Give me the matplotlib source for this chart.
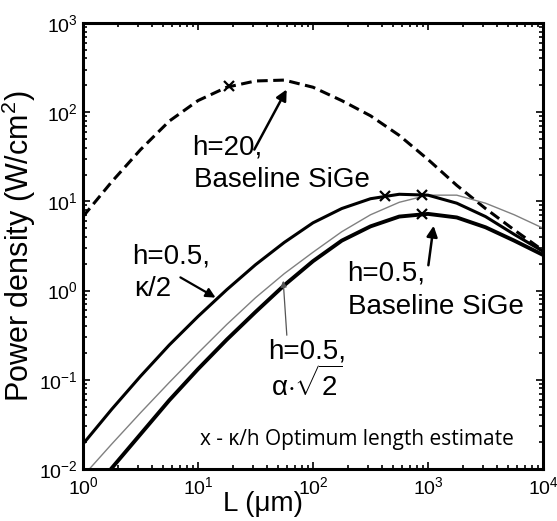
import numpy as np
import matplotlib
matplotlib.use("Agg")
import matplotlib.pyplot as plt
from matplotlib.ticker import LogLocator, NullFormatter

plt.rcParams['font.family'] = ['Liberation Sans', 'DejaVu Sans']
plt.rcParams['mathtext.fontset'] = 'custom'
plt.rcParams['mathtext.rm'] = 'Liberation Sans'
plt.rcParams['mathtext.it'] = 'Liberation Sans:italic'

# ---- data (log10 values) ----
logL_grid = [0.0, 0.25, 0.5, 0.75, 1.0, 1.25, 1.5, 1.75, 2.0,
             2.25, 2.5, 2.75, 3.0, 3.25, 3.5, 3.75, 4.0]

h20_logP = [0.83, 1.22, 1.58, 1.90, 2.13, 2.28, 2.35, 2.36, 2.28,
            2.13, 1.96, 1.74, 1.47, 1.18, 0.92, 0.68, 0.45]

k2_logP = [-1.72, -1.33, -0.96, -0.61, -0.29, 0.01, 0.29, 0.54, 0.76,
           0.92, 1.03, 1.08, 1.07, 0.98, 0.83, 0.63, 0.44]

a2_logP = [-2.08, -1.72, -1.37, -1.03, -0.70, -0.38, -0.08, 0.19, 0.43,
           0.66, 0.85, 0.99, 1.07, 1.07, 0.98, 0.85, 0.70]

base_logP = [-2.37, -1.99, -1.61, -1.23, -0.88, -0.55, -0.24, 0.06, 0.33,
             0.56, 0.72, 0.83, 0.86, 0.82, 0.71, 0.56, 0.40]

marker_L = [18.6, 427, 891, 891]
marker_P = [196, 11.5, 11.7, 7.2]

x_ticks = [1, 10, 100, 1000, 10000]
y_ticks = [1e-2, 1e-1, 1, 10, 100, 1000]

fig = plt.figure(figsize=(5.57, 5.21), dpi=100)
ax = fig.add_axes([83/557, 1-469/521, 460/557, 446/521])

def pw(v):
    return 10**np.asarray(v)

L = pw(logL_grid)
ax.plot(L, pw(h20_logP), color='black', lw=2.2, ls=(0, (3.5, 1.8)))
ax.plot(L, pw(a2_logP), color='#808080', lw=1.0)
ax.plot(L, pw(k2_logP), color='black', lw=2.2)
ax.plot(L, pw(base_logP), color='black', lw=2.8)
ax.plot(marker_L, marker_P, ls='none', marker='x', ms=7, mew=1.6, color='black')

ax.set_xscale('log')
ax.set_yscale('log')
ax.set_xlim(1, 1e4)
ax.set_ylim(1e-2, 1e3)
ax.set_xticks(x_ticks)
ax.set_yticks(y_ticks)
ax.xaxis.set_minor_locator(LogLocator(base=10, subs=np.arange(2, 10), numticks=20))
ax.yaxis.set_minor_locator(LogLocator(base=10, subs=np.arange(2, 10), numticks=20))
ax.xaxis.set_minor_formatter(NullFormatter())
ax.yaxis.set_minor_formatter(NullFormatter())
ax.tick_params(which='both', direction='in', top=True, right=True, width=1.2, labelsize=14)
ax.tick_params(which='major', length=5)
ax.tick_params(which='minor', length=3)
ax.tick_params(axis='x', pad=5)
for s in ax.spines.values():
    s.set_linewidth(2.2)

ax.set_xlabel('L (μm)', fontsize=20)
ax.xaxis.set_label_coords((263-83)/460, (469-491)/446)
ax.set_ylabel(r'Power density (W/cm$^2$)', fontsize=22, labelpad=1)

def d2(xpx, ypx):
    return ax.transData.inverted().transform(fig.transFigure.transform((xpx/557, 1-ypx/521)))

fs = 20
arrow_k = dict(arrowstyle='-|>', color='black', lw=1.8, mutation_scale=16)
# h=20 annotation
ax.annotate('', xy=d2(288, 87), xytext=d2(253, 152), arrowprops=arrow_k)
ax.text(*d2(192, 147), 'h=20,', fontsize=fs, ha='left', va='center')
ax.text(*d2(194, 180), 'Baseline SiGe', fontsize=fs, ha='left', va='center')

# h=0.5 baseline annotation
ax.annotate('', xy=d2(434, 223), xytext=d2(428, 268), arrowprops=arrow_k)
ax.text(*d2(347, 274), 'h=0.5,', fontsize=fs, ha='left', va='center')
ax.text(*d2(348, 307), 'Baseline SiGe', fontsize=fs, ha='left', va='center')

# kappa/2 annotation
ax.annotate('', xy=d2(218, 299), xytext=d2(178, 276),
            arrowprops=dict(arrowstyle='-|>', color='black', lw=1.6, mutation_scale=14))
ax.text(*d2(132, 257), 'h=0.5,', fontsize=fs, ha='left', va='center')
ax.text(*d2(134, 289), 'κ/2', fontsize=fs, ha='left', va='center')

# alpha*sqrt2 annotation
ax.annotate('', xy=d2(283, 278), xytext=d2(287, 338),
            arrowprops=dict(arrowstyle='-|>', color='#555555', lw=0.9, mutation_scale=9))
ax.text(*d2(268, 352), 'h=0.5,', fontsize=fs, ha='left', va='center')
ax.text(*d2(271, 384), r'α$\cdot\sqrt{2}$', fontsize=fs, ha='left', va='center')

ax.text(*d2(200, 440), 'x - κ/h Optimum length estimate', fontsize=15,
        family=['Open Sans', 'DejaVu Sans'], ha='left', va='center')

fig.savefig('out.png', dpi=100)
